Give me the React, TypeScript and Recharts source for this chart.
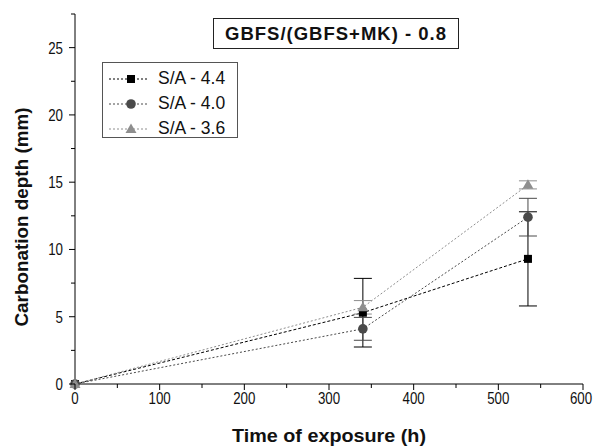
import React from 'react';
import { LineChart, Line, XAxis, YAxis, ErrorBar } from 'recharts';

const times = [0, 340, 535];
const sa44 = [0, 5.3, 9.3];
const sa44Err = [0, 2.55, 3.5];
const sa40 = [0, 4.1, 12.4];
const sa40Err = [0, 0.85, 1.4];
const sa36 = [0, 5.7, 14.8];
const sa36Err = [0, 0.5, 0.3];

const xTicks = [0, 50, 100, 150, 200, 250, 300, 350, 400, 450, 500, 550, 600];
const yTicks = [0, 2.5, 5, 7.5, 10, 12.5, 15, 17.5, 20, 22.5, 25, 27.5];

const seriesMeta = [
  { key: 'sa44', name: 'S/A - 4.4', color: '#000000', shape: 'square', dash: '3 2' },
  { key: 'sa40', name: 'S/A - 4.0', color: '#4a4a4a', shape: 'circle', dash: '2 2' },
  { key: 'sa36', name: 'S/A - 3.6', color: '#8e8e8e', shape: 'triangle', dash: '2 2' },
];

const data = times.map((t, i) => ({
  t,
  sa44: sa44[i],
  sa44Err: sa44Err[i],
  sa40: sa40[i],
  sa40Err: sa40Err[i],
  sa36: sa36[i],
  sa36Err: sa36Err[i],
}));

const FONT = '"Liberation Sans", Arial, sans-serif';

function Marker({ cx, cy, shape, color }: any) {
  if (cx == null || cy == null) return null;
  if (shape === 'square') return <rect x={cx - 4} y={cy - 4} width={8} height={8} fill={color} />;
  if (shape === 'circle') return <circle cx={cx} cy={cy} r={4.8} fill={color} />;
  return <polygon points={`${cx},${cy - 5.5} ${cx + 5.5},${cy + 4} ${cx - 5.5},${cy + 4}`} fill={color} />;
}

// tick labels in the original are a little condensed
function TickText({ x, y, anchor, value }: any) {
  const s = String(value);
  return (
    <text
      x={x}
      y={y}
      textAnchor={anchor}
      fontSize={16}
      fontFamily={FONT}
      fill="#111"
      textLength={s.length * 7.4}
      lengthAdjust="spacingAndGlyphs"
    >
      {s}
    </text>
  );
}

function BottomTick({ x, y, payload }: any) {
  const major = payload.value % 100 === 0;
  const last = payload.value === xTicks[xTicks.length - 1];
  return (
    <g>
      <line x1={x} y1={y} x2={x} y2={y + (major ? 6 : 4)} stroke="#000" />
      {major && <TickText x={last ? x - 2 : x} y={y + 20} anchor="middle" value={payload.value} />}
    </g>
  );
}

function LeftTick({ x, y, payload }: any) {
  const major = payload.value % 5 === 0;
  return (
    <g>
      <line x1={x} y1={y} x2={x - (major ? 6 : 4)} y2={y} stroke="#000" />
      {major && <TickText x={x - 12} y={y + 6} anchor="end" value={payload.value} />}
    </g>
  );
}

function TopTick({ x, y, payload }: any) {
  const major = payload.value % 100 === 0;
  return <line x1={x} y1={y} x2={x} y2={y + (major ? 4 : 3)} stroke="#000" />;
}

function RightTick({ x, y, payload }: any) {
  const major = payload.value % 5 === 0;
  return <line x1={x} y1={y} x2={x - (major ? 4 : 3)} y2={y} stroke="#000" />;
}

function LegendBox() {
  return (
    <div
      style={{
        position: 'absolute',
        left: 102,
        top: 62,
        width: 136,
        height: 76,
        boxSizing: 'border-box',
        border: '1px solid #555',
        background: '#fff',
        paddingTop: 3,
        fontFamily: FONT,
        fontSize: 17.5,
        color: '#111',
      }}
    >
      {seriesMeta.map((s) => (
        <div key={s.key} style={{ display: 'flex', alignItems: 'center', height: 25 }}>
          <svg width={50} height={14} style={{ marginLeft: 4, marginRight: 1 }}>
            <line x1={2} y1={7} x2={40} y2={7} stroke={s.color} strokeDasharray="2 2" />
            <Marker cx={24} cy={7} shape={s.shape} color={s.color} />
          </svg>
          <span>{s.name}</span>
        </div>
      ))}
    </div>
  );
}

export default function App() {
  return (
    <div style={{ position: 'absolute', left: 0, top: 0, width: 595, height: 448, background: '#fff' }}>
      <LineChart width={595} height={448} data={data} margin={{ top: 14, right: 12, bottom: 4, left: 0 }}>
        <XAxis
          xAxisId="b"
          dataKey="t"
          type="number"
          domain={[0, 600]}
          ticks={xTicks}
          interval={0}
          tick={<BottomTick />}
          tickLine={false}
          tickSize={0}
          tickMargin={0}
          height={60}
          stroke="#000"
          label={{
            content: () => (
              <text
                x={329}
                y={442}
                textAnchor="middle"
                fontSize={17.5}
                fontWeight="bold"
                fontFamily={FONT}
                fill="#111"
                textLength={194}
                lengthAdjust="spacingAndGlyphs"
              >
                Time of exposure (h)
              </text>
            ),
          }}
        />
        <XAxis
          xAxisId="t"
          orientation="top"
          dataKey="t"
          type="number"
          domain={[0, 600]}
          ticks={xTicks}
          interval={0}
          tick={<TopTick />}
          tickLine={false}
          tickSize={0}
          tickMargin={0}
          height={0}
          stroke="#000"
        />
        <YAxis
          yAxisId="l"
          type="number"
          domain={[0, 27.5]}
          ticks={yTicks}
          interval={0}
          tick={<LeftTick />}
          tickLine={false}
          tickSize={0}
          tickMargin={0}
          width={75}
          stroke="#000"
          label={{
            content: () => (
              <text
                x={23}
                y={217}
                transform="rotate(-90, 23, 217)"
                textAnchor="middle"
                dominantBaseline="middle"
                fontSize={17.5}
                fontWeight="bold"
                fontFamily={FONT}
                fill="#111"
                textLength={219}
                lengthAdjust="spacingAndGlyphs"
              >
                Carbonation depth (mm)
              </text>
            ),
          }}
        />
        <YAxis
          yAxisId="r"
          orientation="right"
          type="number"
          domain={[0, 27.5]}
          ticks={yTicks}
          interval={0}
          tick={<RightTick />}
          tickLine={false}
          tickSize={0}
          tickMargin={0}
          width={0}
          stroke="#000"
        />
        {seriesMeta.map((s) => (
          <Line
            key={s.key}
            xAxisId="b"
            yAxisId="l"
            dataKey={s.key}
            name={s.name}
            type="linear"
            stroke={s.color}
            strokeWidth={1}
            strokeDasharray={s.dash}
            dot={(p: any) => <Marker key={`${s.key}-${p.index}`} cx={p.cx} cy={p.cy} shape={s.shape} color={s.color} />}
            activeDot={false}
            isAnimationActive={false}
          >
            <ErrorBar dataKey={`${s.key}Err`} direction="y" width={9} stroke={s.color} strokeWidth={1} />
          </Line>
        ))}
      </LineChart>
      <LegendBox />
      <div
        style={{
          position: 'absolute',
          left: 213,
          top: 18,
          width: 246,
          height: 31,
          border: '1px solid #222',
          background: '#fff',
          boxSizing: 'border-box',
          display: 'flex',
          alignItems: 'center',
          justifyContent: 'center',
          fontFamily: FONT,
          fontSize: 18.5,
          fontWeight: 'bold',
          letterSpacing: 1,
          color: '#111',
        }}
      >
        GBFS/(GBFS+MK) - 0.8
      </div>
    </div>
  );
}
